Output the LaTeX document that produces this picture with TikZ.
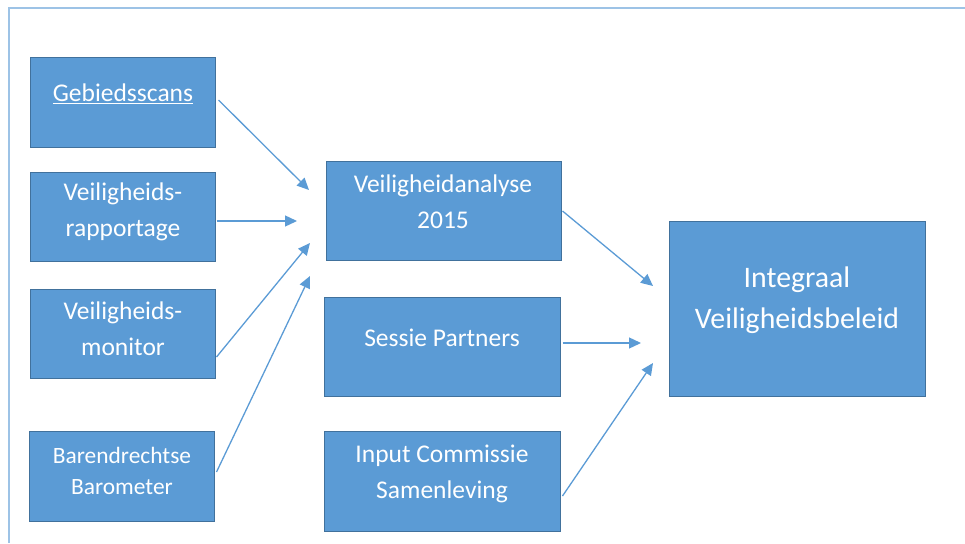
\documentclass[tikz,border=0pt]{standalone}
\usepackage{fontspec}
\setmainfont{Carlito}
\usetikzlibrary{arrows.meta}
\definecolor{boxfill}{HTML}{5B9BD5}
\definecolor{boxline}{HTML}{41719C}
\definecolor{framecol}{HTML}{9DC3E6}
\tikzset{
  block/.style={draw=boxline, line width=1pt, fill=boxfill, inner sep=0pt},
  lbl/.style={text=white, align=center, inner sep=0pt, font=\fontsize{25.5}{36}\selectfont},
  lblsmall/.style={lbl, font=\fontsize{23.4}{31}\selectfont},
  lblbig/.style={lbl, font=\fontsize{29.8}{41}\selectfont},
  flow/.style={draw=boxfill, line width=1.3pt, -{Triangle[length=12pt,width=11pt]}}
}
\begin{document}
\begin{tikzpicture}[x=1pt,y=-1pt]
\useasboundingbox (0,0) rectangle (965,543);
% outer frame (left and top edges only)
\draw[framecol, line width=2pt] (9,543) -- (9,8) -- (965,8);

% left column
\node[block, minimum width=185pt, minimum height=90pt] (gs) at (122.5,102) {};
\node[block, minimum width=185pt, minimum height=89pt] (vr) at (122.5,216.5) {};
\node[block, minimum width=185pt, minimum height=89pt] (vm) at (122.5,333.5) {};
\node[block, minimum width=185pt, minimum height=90pt] (bb) at (121.5,476) {};

% middle column
\node[block, minimum width=235pt, minimum height=99pt] (va) at (443.5,210.5) {};
\node[block, minimum width=236pt, minimum height=99pt] (sp) at (442,346.5) {};
\node[block, minimum width=236pt, minimum height=100pt] (ic) at (442,481) {};

% result
\node[block, minimum width=256pt, minimum height=175pt] (iv) at (797,308.5) {};

% labels
\node[lbl] (gst) at (123,94) {\underline{Gebiedsscans}};
\node[lbl] (vrt) at (123,212) {Veiligheids-\\rapportage};
\node[lbl] (vmt) at (123,329) {Veiligheids-\\monitor};
\node[lblsmall] (bbt) at (122,471) {Barendrechtse\\Barometer};
\node[lbl] (vat) at (443,202) {Veiligheidanalyse\\2015};
\node[lbl] (spt) at (442,338) {Sessie Partners};
\node[lbl] (ict) at (442,474) {Input Commissie\\Samenleving};
\node[lblbig] (ivt) at (797,300) {Integraal\\Veiligheidsbeleid};

% arrow end points
\coordinate (e1) at (309,190);
\coordinate (e2) at (297,221);
\coordinate (e3) at (310,243);
\coordinate (e4) at (310,276);
\coordinate (e5) at (653,286);
\coordinate (e6) at (641,343);
\coordinate (e7) at (653,363);

% connectors
\draw[flow] ([shift={(3,-2)}]gs.east) -- (e1);
\draw[flow] ([shift={(1,4.5)}]vr.east) -- (e2);
\draw[flow] ([shift={(1,23.5)}]vm.east) -- (e3);
\draw[flow] ([shift={(2,-4)}]bb.east) -- (e4);
\draw[flow] ([shift={(1,0.5)}]va.east) -- (e5);
\draw[flow] ([shift={(2,-3.5)}]sp.east) -- (e6);
\draw[flow] ([shift={(2,15)}]ic.east) -- (e7);
\end{tikzpicture}
\end{document}
